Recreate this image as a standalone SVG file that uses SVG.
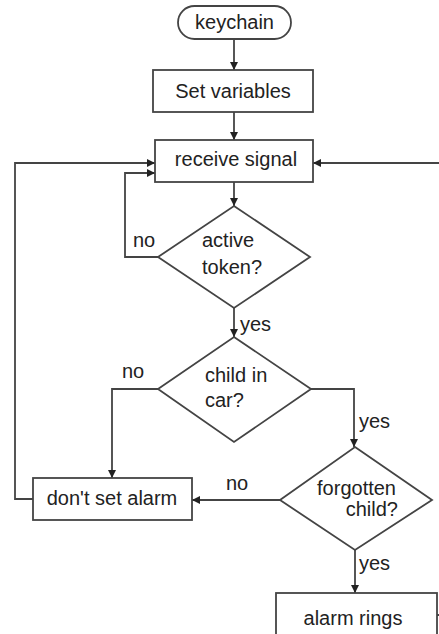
<svg xmlns="http://www.w3.org/2000/svg" width="439" height="634" viewBox="0 0 439 634">
<defs>
<marker id="arr" viewBox="0 0 10 10" refX="10" refY="5" markerWidth="8" markerHeight="8" markerUnits="userSpaceOnUse" orient="auto">
<path d="M0,0 L10,5 L0,10 z" fill="#222"/>
</marker>
<style>
.shape{fill:#fff;stroke:#444;stroke-width:1.8}
.line{fill:none;stroke:#444;stroke-width:1.8}
.t{font-family:"Liberation Sans",Arial,sans-serif;font-size:20px;fill:#222}
.c{text-anchor:middle}
</style>
</defs>
<rect width="439" height="634" fill="#fff"/>
<g id="connectors">
<path class="line" d="M234,40 V70" marker-end="url(#arr)"/>
<path class="line" d="M234,112 V140" marker-end="url(#arr)"/>
<path class="line" d="M234,182 V206" marker-end="url(#arr)"/>
<path class="line" d="M158,257 H125 V173 H155" marker-end="url(#arr)"/>
<path class="line" d="M234,308 V337" marker-end="url(#arr)"/>
<path class="line" d="M158,389 H112 V478" marker-end="url(#arr)"/>
<path class="line" d="M311,389 H354 V447" marker-end="url(#arr)"/>
<path class="line" d="M280,500 H192" marker-end="url(#arr)"/>
<path class="line" d="M33,499 H15 V163 H155" marker-end="url(#arr)"/>
<path class="line" d="M439,163 H313" marker-end="url(#arr)"/>
<path class="line" d="M355,550 V593" marker-end="url(#arr)"/>
<path class="line" d="M437,615 H439"/>
<text class="t" x="133" y="247">no</text>
<text class="t" x="240" y="331">yes</text>
<text class="t" x="122" y="378">no</text>
<text class="t" x="359" y="428">yes</text>
<text class="t" x="226" y="490">no</text>
<text class="t" x="359" y="570">yes</text>
</g>
<g id="keychain">
<rect class="shape" x="178" y="6" width="113" height="33" rx="16.5"/>
<text class="t c" x="234.5" y="29">keychain</text>
</g>
<g id="set-variables">
<rect class="shape" x="153" y="70" width="160" height="42"/>
<text class="t c" x="233" y="98">Set variables</text>
</g>
<g id="receive-signal">
<rect class="shape" x="155" y="140" width="158" height="42"/>
<text class="t c" x="236" y="166">receive signal</text>
</g>
<g id="active-token">
<polygon class="shape" points="234,206 310,257 234,308 158,257"/>
<text class="t" x="202" y="247">active</text>
<text class="t" x="202" y="274">token?</text>
</g>
<g id="child-in-car">
<polygon class="shape" points="234,337 311,389 234,442 158,389"/>
<text class="t" x="205" y="382">child in</text>
<text class="t" x="205" y="407">car?</text>
</g>
<g id="dont-set-alarm">
<rect class="shape" x="33" y="478" width="159" height="42"/>
<text class="t c" x="112" y="505">don't set alarm</text>
</g>
<g id="forgotten-child">
<polygon class="shape" points="355,447 432,500 355,550 280,500"/>
<text class="t" x="396" y="495" text-anchor="end">forgotten</text>
<text class="t" x="398" y="516" text-anchor="end">child?</text>
</g>
<g id="alarm-rings">
<rect class="shape" x="276" y="593" width="161" height="50"/>
<text class="t c" x="353" y="625">alarm rings</text>
</g>
</svg>
